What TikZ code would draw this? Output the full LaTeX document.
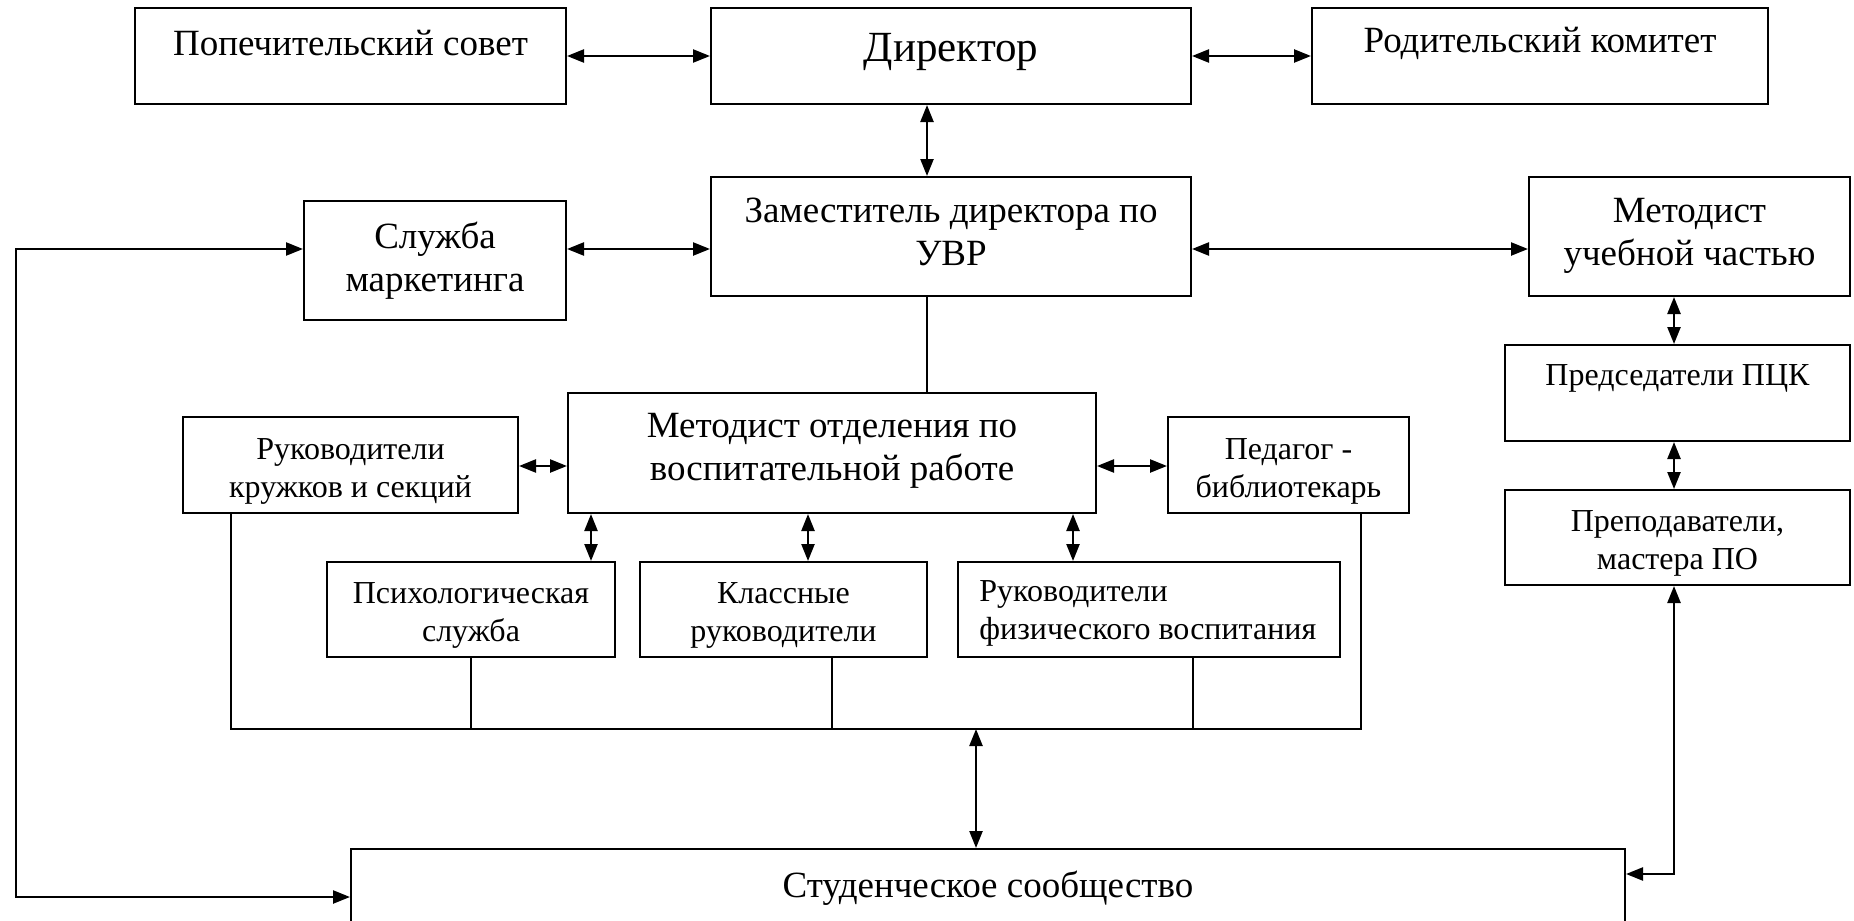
\documentclass[tikz,border=0pt]{standalone}
\usepackage{fontspec}
\setmainfont{Liberation Serif}
\usetikzlibrary{arrows.meta,calc}
\begin{document}
\begin{tikzpicture}[x=0.5pt,y=-0.5pt,
  box/.style={draw,line width=1pt,inner sep=0pt,align=center,font=\fontsize{18.5}{21.5}\selectfont},
  sbox/.style={box,font=\fontsize{16}{19}\selectfont},
  txt/.style={inner sep=0pt,align=center,font=\fontsize{18.5}{21.5}\selectfont},
  stxt/.style={txt,font=\fontsize{16}{19}\selectfont},
  arr/.style={line width=1.2pt,{Triangle[length=8.5pt,width=6.5pt]}-{Triangle[length=8.5pt,width=6.5pt]}},
  ln/.style={line width=0.8pt}]
\path[use as bounding box,clip] (0,0) rectangle (1854,921);
\fill[white] (0,0) rectangle (1854,921);
% boxes
\node[box,minimum width=215.5pt,minimum height=48pt] (pop) at (350.5,56) {};
\node[txt] (popt) at (350.5,43) {Попечительский совет};
\node[box,minimum width=240pt,minimum height=48pt] (dir) at (951,56) {};
\node[txt,font=\fontsize{21.5}{24}\selectfont] (dirt) at (951,52) {Директор};
\node[box,minimum width=228pt,minimum height=48pt] (rod) at (1540,56) {};
\node[txt] (rodt) at (1540,43) {Родительский комитет};
\node[box,minimum width=240pt,minimum height=59.5pt] (zam) at (951,236.5) {};
\node[txt] (zamt) at (951,232) {Заместитель директора по\\УВР};
\node[box,minimum width=131pt,minimum height=59.5pt] (sluz) at (435,260.5) {Служба\\маркетинга};
\node[box,minimum width=160.5pt,minimum height=59.5pt] (metu) at (1689.5,236.5) {};
\node[txt] (metut) at (1689.5,236) {Методист\\учебной частью};
\node[box,minimum width=172.5pt,minimum height=48pt] (pck) at (1677.5,393) {};
\node[stxt] (pckt) at (1677.5,378) {Председатели ПЦК};
\node[box,minimum width=172.5pt,minimum height=47.5pt] (prep) at (1677.5,537.5) {};
\node[stxt] (prept) at (1677.5,543) {Преподаватели,\\мастера ПО};
\node[box,minimum width=264pt,minimum height=60pt] (mot) at (832,453) {};
\node[txt] (mott) at (832,451) {Методист отделения по\\воспитательной работе};
\node[box,minimum width=167.5pt,minimum height=48pt] (kruz) at (350.5,465) {};
\node[stxt] (kruzt) at (350.5,471) {Руководители\\кружков и секций};
\node[box,minimum width=120.5pt,minimum height=48pt] (ped) at (1288.5,465) {};
\node[stxt] (pedt) at (1288.5,471) {Педагог -\\библиотекарь};
\node[box,minimum width=144pt,minimum height=47.5pt] (psy) at (471,609.5) {};
\node[stxt] (psyt) at (471,615) {Психологическая\\служба};
\node[box,minimum width=143.5pt,minimum height=47.5pt] (kl) at (783.5,609.5) {};
\node[stxt] (klt) at (783.5,615) {Классные\\руководители};
\node[box,minimum width=191pt,minimum height=47.5pt] (fiz) at (1149,609.5) {};
\node[stxt,align=left,anchor=west] (fizt) at (979,613) {Руководители\\физического воспитания};
\node[box,minimum width=637pt,minimum height=75.5pt] (stud) at (988,924.5) {};
\node[txt] (studt) at (988,888) {Студенческое сообщество};
% helper coordinates
\coordinate (xA) at (927,0);
\coordinate (yA) at (0,249);
\coordinate (xL) at (16,0);
\coordinate (yB) at (0,897);
\coordinate (yC) at (0,466);
\coordinate (x1) at (591,0);
\coordinate (x2) at (808,0);
\coordinate (x3) at (1073,0);
\coordinate (yD) at (0,729);
\coordinate (xb1) at (231,0);
\coordinate (xb2) at (471,0);
\coordinate (xb3) at (832,0);
\coordinate (xb4) at (1193,0);
\coordinate (xb5) at (1361,0);
\coordinate (xS) at (976,0);
\coordinate (xR) at (1674,0);
\coordinate (yE) at (0,874);
% connectors
\draw[arr] (pop.east) -- (dir.west);
\draw[arr] (dir.east) -- (rod.west);
\draw[arr] (dir.south -| xA) -- (zam.north -| xA);
\draw[arr] (sluz.east |- yA) -- (zam.west |- yA);
\draw[arr] (zam.east |- yA) -- (metu.west |- yA);
\draw[arr] (sluz.west |- yA) -- (xL |- yA) -- (xL |- yB) -- (stud.west |- yB);
\draw[ln] (zam.south -| xA) -- (mot.north -| xA);
\draw[arr] (kruz.east |- yC) -- (mot.west |- yC);
\draw[arr] (mot.east |- yC) -- (ped.west |- yC);
\draw[arr] (mot.south -| x1) -- (psy.north -| x1);
\draw[arr] (mot.south -| x2) -- (kl.north -| x2);
\draw[arr] (mot.south -| x3) -- (fiz.north -| x3);
\draw[ln] (kruz.south -| xb1) -- (xb1 |- yD) -- (xb5 |- yD) -- (ped.south -| xb5);
\draw[ln] (psy.south -| xb2) -- (xb2 |- yD);
\draw[ln] (kl.south -| xb3) -- (xb3 |- yD);
\draw[ln] (fiz.south -| xb4) -- (xb4 |- yD);
\draw[arr] (xS |- yD) -- (stud.north -| xS);
\draw[arr] (metu.south -| xR) -- (pck.north -| xR);
\draw[arr] (pck.south -| xR) -- (prep.north -| xR);
\draw[arr] (prep.south -| xR) -- (xR |- yE) -- (stud.east |- yE);
\end{tikzpicture}
\end{document}
